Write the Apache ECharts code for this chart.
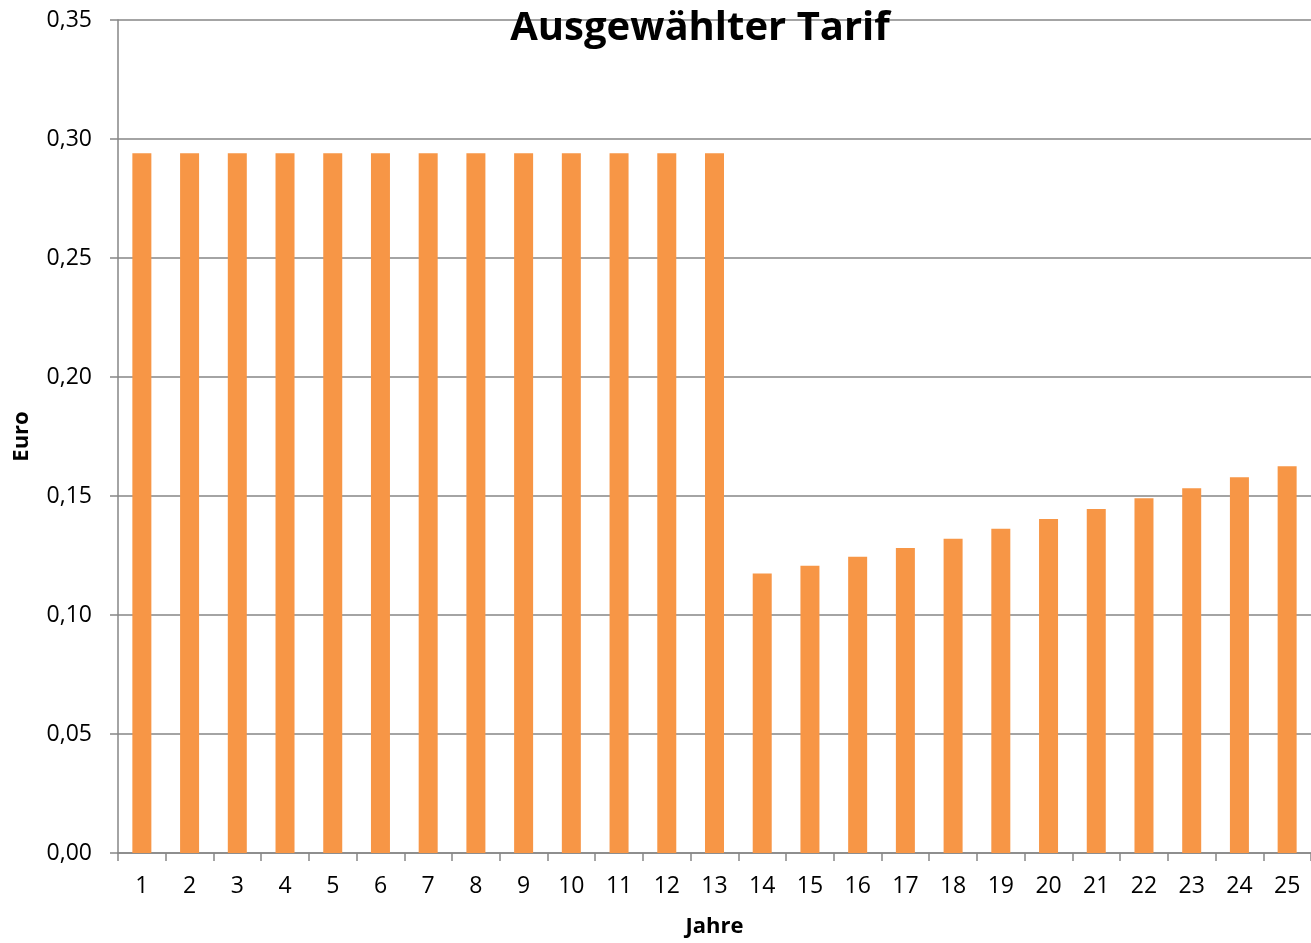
<!DOCTYPE html>
<html><head><meta charset="utf-8">
<script src="https://cdn.jsdelivr.net/npm/echarts@6/dist/echarts.min.js"></script>
<style>html,body{margin:0;padding:0;background:#fff}#c{width:1311px;height:943px}</style>
</head><body><div id="c"></div>
<script>
const years = ['1','2','3','4','5','6','7','8','9','10','11','12','13','14','15','16','17','18','19','20','21','22','23','24','25'];
const tariff = [0.294,0.294,0.294,0.294,0.294,0.294,0.294,0.294,0.294,0.294,0.294,0.294,0.294,
  0.1174,0.1207,0.1245,0.1282,0.1320,0.1362,0.1403,0.1445,0.1491,0.1533,0.1579,0.1625];
const yTicks = {min:0, max:0.35, interval:0.05};
const chart = echarts.init(document.getElementById('c'), null, {renderer:'canvas'});
const font = '"Open Sans", "Liberation Sans", sans-serif';
chart.setOption({
  animation:false,
  title:{text:'Ausgewählter Tarif', left:695, top:4, textAlign:'center',
    textStyle:{fontFamily:font, fontWeight:'bold', fontSize:40, color:'#000'}, z:10},
  grid:{left:118, width:1200, top:20, height:837, containLabel:false},
  xAxis:{type:'category', data:years, name:'Jahre', nameLocation:'middle', nameGap:63,
    nameTextStyle:{fontFamily:font, fontWeight:'bold', fontSize:22, color:'#000'},
    axisLine:{lineStyle:{color:'#868686', width:1.5}},
    axisTick:{show:true, length:8, alignWithLabel:false, lineStyle:{color:'#868686', width:1.5}},
    axisLabel:{fontFamily:font, fontSize:23, color:'#000', margin:22}},
  yAxis:{type:'value', min:yTicks.min, max:yTicks.max, interval:yTicks.interval,
    name:'Euro', nameLocation:'middle', nameGap:85,
    nameTextStyle:{fontFamily:font, fontWeight:'bold', fontSize:22, color:'#000'},
    axisLine:{show:true, lineStyle:{color:'#868686', width:1.5}},
    axisTick:{show:true, length:8, lineStyle:{color:'#868686', width:1.5}},
    splitLine:{show:true, lineStyle:{color:'#868686', width:1.5}},
    axisLabel:{fontFamily:font, fontSize:23, color:'#000', margin:26,
      formatter:v=>v.toFixed(2).replace('.',',')}},
  series:[{type:'bar', data:tariff, barWidth:19, itemStyle:{color:'#F79646'}}]
});
</script></body></html>
